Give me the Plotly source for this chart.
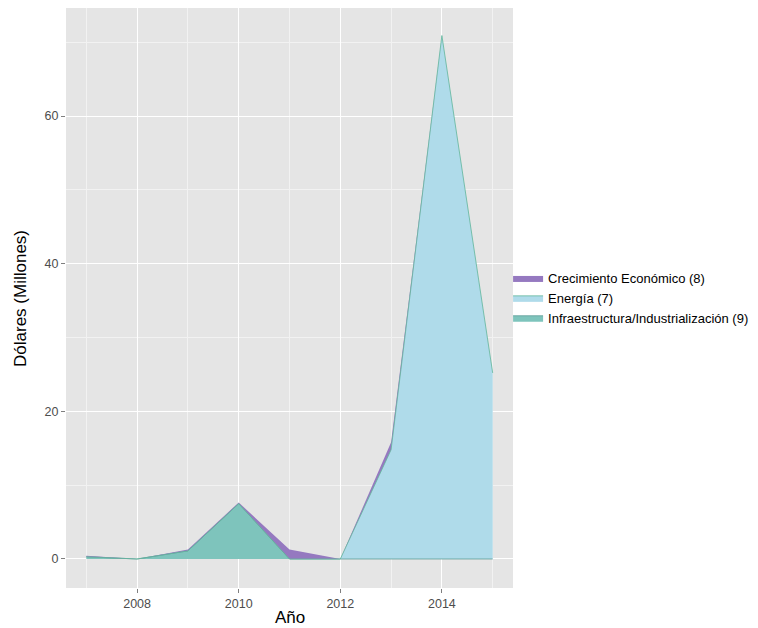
import plotly.graph_objects as go

years = [2007, 2008, 2009, 2010, 2011, 2012, 2013, 2014, 2015]
infraestructura = [0.3, 0.0, 1.1, 7.5, 0.0, 0.0, 0.0, 0.0, 0.0]
energia = [0.0, 0.0, 0.0, 0.0, 0.0, 0.0, 14.8, 70.9, 25.2]
crecimiento = [0.15, 0.0, 0.2, 0.15, 1.3, 0.0, 1.0, 0.0, 0.0]

series_names = ["Infraestructura/Industrialización (9)", "Energía (7)", "Crecimiento Económico (8)"]
fill_colors = ["#7EC4BC", "#AFDBEA", "#9579C0"]
line_colors = ["#5E9E98", "#5FB59A", "#7F66A8"]
line_widths = [0.8, 0.8, 0]
series_values = [infraestructura, energia, crecimiento]

fig = go.Figure()
for name, vals, fc, lc, lw in zip(series_names, series_values, fill_colors, line_colors, line_widths):
    fig.add_trace(go.Scatter(
        x=years, y=vals, name=name, mode="lines",
        stackgroup="one", fillcolor=fc,
        line=dict(color=lc, width=lw),
    ))

font_family = "Liberation Sans, Arial, sans-serif"
fig.update_layout(
    width=750, height=620,
    margin=dict(l=58, r=245, t=0, b=40, autoexpand=False),
    paper_bgcolor="white",
    plot_bgcolor="#E5E5E5",
    font=dict(family=font_family, color="#4D4D4D", size=12),
    showlegend=True,
    legend=dict(
        x=0.989, y=0.5, xanchor="left", yanchor="middle",
        traceorder="reversed", font=dict(size=13, color="black"),
        tracegroupgap=0, itemwidth=30, bgcolor="rgba(0,0,0,0)",
    ),
    xaxis=dict(
        range=[2006.6, 2015.4], tickvals=[2008, 2010, 2012, 2014],
        showgrid=True, gridcolor="white", gridwidth=1,
        minor=dict(showgrid=True, gridcolor="#F2F2F2", gridwidth=0.5, tickvals=[2007, 2009, 2011, 2013, 2015]),
        zeroline=False, ticks="outside", ticklen=4, tickcolor="#7F7F7F",
        tickfont=dict(size=12.5, color="#4D4D4D"), automargin=False,
    ),
    yaxis=dict(
        range=[-3.93, 74.63], tickvals=[0, 20, 40, 60],
        showgrid=True, gridcolor="white", gridwidth=1,
        minor=dict(showgrid=True, gridcolor="#F2F2F2", gridwidth=0.5, tickvals=[10, 30, 50, 70]),
        zeroline=False, ticks="outside", ticklen=4, tickcolor="#7F7F7F",
        tickfont=dict(size=12.5, color="#4D4D4D"), automargin=False,
    ),
    annotations=[
        dict(text="Año", x=0.5, y=-0.0517, xref="paper", yref="paper",
             xanchor="center", yanchor="middle", showarrow=False,
             font=dict(size=17, color="black")),
        dict(text="Dólares (Millones)", x=-0.103, y=0.5, xref="paper", yref="paper",
             xanchor="center", yanchor="middle", showarrow=False, textangle=-90,
             font=dict(size=17, color="black")),
    ],
)

fig.write_html("out.html")
